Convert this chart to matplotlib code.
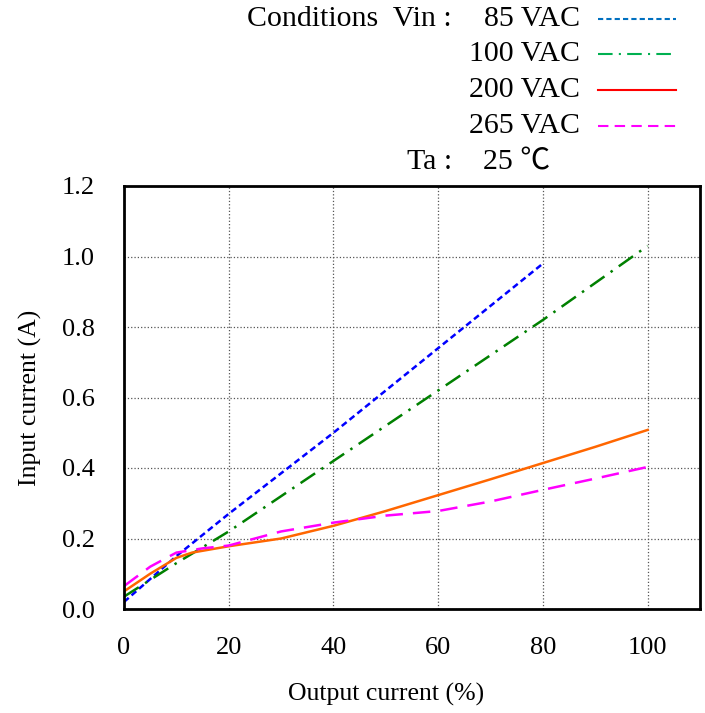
import matplotlib.pyplot as plt
from matplotlib.lines import Line2D

plt.rcParams['font.family'] = ['Liberation Serif', 'DejaVu Serif']

# data
x_85 = [0, 10, 20, 40, 60, 80]
y_85 = [0.02, 0.15, 0.27, 0.50, 0.74, 0.98]

x_100 = [0, 10, 20, 40, 60, 80, 100]
y_100 = [0.035, 0.13, 0.22, 0.42, 0.62, 0.82, 1.03]

x_200 = [0, 5, 10, 13, 20, 30, 40, 50, 60, 70, 80, 90, 100]
y_200 = [0.05, 0.10, 0.145, 0.16, 0.178, 0.20, 0.236, 0.278, 0.323, 0.368, 0.414, 0.46, 0.508]

x_265 = [0, 5, 10, 15, 20, 30, 40, 50, 60, 70, 80, 90, 100]
y_265 = [0.065, 0.12, 0.16, 0.172, 0.18, 0.22, 0.245, 0.265, 0.278, 0.305, 0.338, 0.37, 0.403]

legend_labels = ['85 VAC', '100 VAC', '200 VAC', '265 VAC']

fig = plt.figure(figsize=(7.05, 7.13), dpi=100)
ax = fig.add_axes([124 / 705, 104 / 713, 576 / 705, 423 / 713])

ax.plot(x_85, y_85, color='#0000ff', lw=1.8, linestyle=(0, (2.5, 1.5)))
ax.plot(x_100, y_100, color='#008000', lw=1.8, linestyle=(0, (7, 3, 1, 3)))
ax.plot(x_200, y_200, color='#ff6600', lw=1.8)
ax.plot(x_265, y_265, color='#ff00ff', lw=1.8, linestyle=(0, (7, 4)))

ax.set_xlim(0, 110)
ax.set_ylim(0, 1.2)
ax.set_xticks([0, 20, 40, 60, 80, 100])
ax.set_yticks([0.0, 0.2, 0.4, 0.6, 0.8, 1.0, 1.2])
ax.set_yticklabels(['0.0', '0.2', '0.4', '0.6', '0.8', '1.0', '1.2'])
ax.tick_params(length=0, labelsize=19)
ax.tick_params(axis='y', pad=21)
ax.tick_params(axis='x', pad=20)
ax.grid(True, color='#555555', linestyle=':', linewidth=0.9)
for s in ax.spines.values():
    s.set_linewidth(2)
    s.set_color('black')

# x label sits centred under the 0-100 range, not the whole axis
ax.set_xlabel('Output current (%)', fontsize=18.5)
ax.xaxis.set_label_coords(50 / 110, -0.174)
ax.set_ylabel('Input current (A)', fontsize=18.5, labelpad=14)

# legend block drawn as text + line samples above the axes
W, H = 705, 713
row_y = [19, 54, 90, 126]
styles = [
    dict(color='#0070c0', linestyle=(0, (2.5, 1.5))),
    dict(color='#00b050', linestyle=(0, (7, 3, 1, 3))),
    dict(color='#ff0000', linestyle='-'),
    dict(color='#ff00ff', linestyle=(0, (5, 3))),
]
fig.text(452 / W, 1 - row_y[0] / H, 'Conditions  Vin :', fontsize=21.5, ha='right', va='center')
for lbl, yy, st in zip(legend_labels, row_y, styles):
    fig.text(580 / W, 1 - yy / H, lbl, fontsize=21.5, ha='right', va='center')
    fig.add_artist(Line2D([598 / W, 676 / W], [1 - yy / H, 1 - yy / H],
                          transform=fig.transFigure, lw=1.5, **st))
fig.text(452 / W, 1 - 162 / H, 'Ta :', fontsize=21.5, ha='right', va='center')
fig.text(483 / W, 1 - 162 / H, '25 ℃', fontsize=21.5, ha='left', va='center',
         family=['Liberation Serif', 'Noto Sans CJK JP', 'DejaVu Serif'])

fig.savefig('out.png', dpi=100)
